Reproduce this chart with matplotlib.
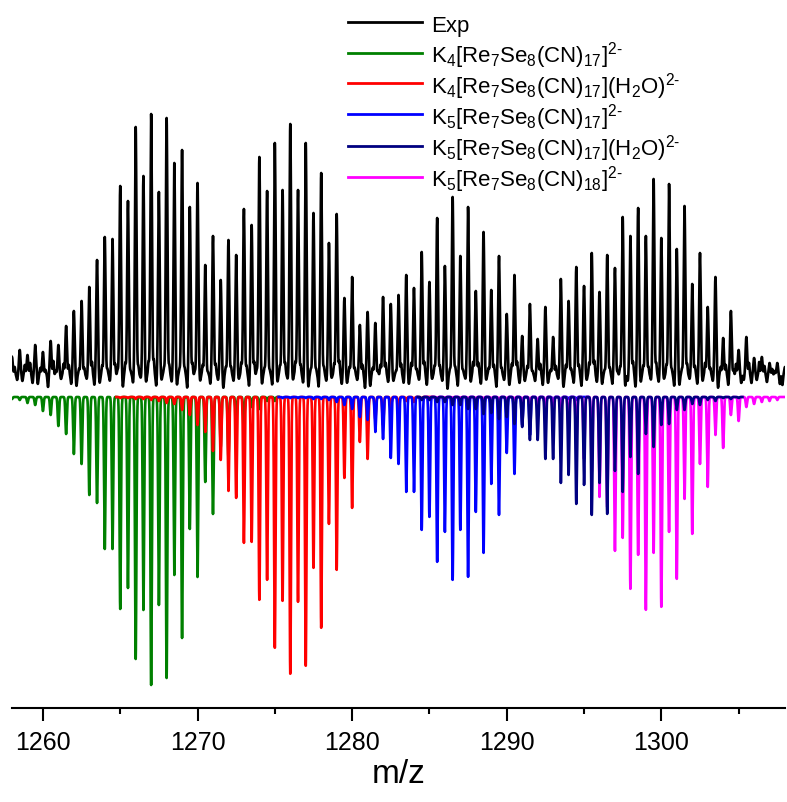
import numpy as np
import matplotlib
matplotlib.use('Agg')
import matplotlib.pyplot as plt
from matplotlib.lines import Line2D
from matplotlib.ticker import MultipleLocator

plt.rcParams['font.family'] = ['Liberation Sans', 'DejaVu Sans']
plt.rcParams['mathtext.fontset'] = 'custom'
plt.rcParams['mathtext.rm'] = 'Liberation Sans'
plt.rcParams['mathtext.it'] = 'Liberation Sans:italic'
plt.rcParams['mathtext.bf'] = 'Liberation Sans:bold'

# ---------------- data (peak intensities, arbitrary units, 0.5 m/z spacing) ----------------
exp_start = 1258.0
exp_heights = [18, 25, 20, 30, 23, 34, 30, 49, 64, 74,
               88, 115, 138, 136, 189, 174, 248, 199, 261, 183,
               257, 212, 225, 168, 192, 110, 139, 95, 135, 120,
               166, 150, 218, 184, 232, 185, 251, 185, 232, 162,
               202, 132, 161, 77, 98, 50, 63, 52, 78, 71,
               80, 100, 87, 123, 93, 157, 109, 178, 119, 168,
               84, 143, 85, 119, 61, 100, 39, 71, 36, 68,
               38, 96, 74, 108, 89, 122, 83, 120, 107, 158,
               139, 167, 139, 196, 137, 191, 126, 169, 91, 122,
               68, 98, 37, 64, 25, 38, 17, 18, 12, 12,
               8]
# baseline noise of the experimental trace, between the isotope peaks
noise_a = [8, -6, 12, -9, 5, 14, -4, 10, -11, 7,
           13, -8, 6, 11, -12, 4, 9, -7, 15, -5,
           10, -10, 7, 12, -6, 3, 11, -13, 8, -4,
           9, 13, -9, 5, -7, 12, -5, 10, -12, 6,
           8, -3, 14, -8, 7, 10, -11, 4, 12, -6,
           11, -9, 6, 13, -4, 9, -14, 8, 5, -7,
           12, -5, 10, 7, -10, 13, -6, 4, 11, -8,
           9, -12, 6, 10, -5, 14, -9, 7, 3, -11,
           13, -7, 8, 12, -4, 6, -10, 11, 9, -6,
           7, -13, 10, 5, -8, 12, -5, 9, 6, -9]
noise_b = [-5, 10, -8, 7, -12, 4, 11, -9, 6, -4,
           -10, 9, -6, 5, 12, -8, -3, 13, -11, 7,
           -7, 6, -13, 4, 10, -9, -5, 8, -6, 12,
           -11, 5, 7, -10, 9, -4, 13, -8, 6, -12,
           -6, 11, -9, 8, -5, -13, 7, 10, -7, 4,
           -8, 12, -5, -10, 9, -6, 6, -11, -4, 13,
           -9, 7, -12, -5, 11, -8, 9, -6, -10, 5,
           -4, 10, -8, -11, 12, -7, 5, -9, 8, -6,
           -12, 9, -5, -7, 10, -11, 6, -4, -9, 12,
           -6, 8, -10, 11, -5, -8, 13, -7, 4, -10]

green_start = 1258.0
green_vals = [2, 3, 6, 8, 14, 18, 29, 37, 57, 67,
              98, 106, 152, 152, 212, 191, 262, 213, 288, 208,
              281, 178, 241, 132, 180, 85, 117, 50, 60, 25,
              30, 10, 12, 4, 4]

red_start = 1265.0
red_vals = [1, 1, 2, 2, 3, 4, 6, 7, 13, 18,
            28, 35, 54, 63, 94, 101, 146, 145, 203, 183,
            251, 204, 277, 205, 269, 171, 231, 127, 173, 81,
            111, 45, 62, 22, 28, 10, 12, 4, 5, 2]

blue_start = 1275.5
blue_vals = [1, 1, 1, 1, 2, 2, 3, 5, 8,
             12, 20, 23, 35, 42, 61, 67, 95, 95, 133,
             120, 165, 135, 183, 133, 180, 115, 156, 87, 118,
             56, 77, 28, 38, 14, 18, 6, 8, 2, 3]

navy_start = 1284.5
navy_vals = [3, 3, 5, 5, 8, 8, 12, 12, 17, 16,
             22, 20, 27, 30, 43, 43, 62, 62, 86, 78,
             107, 88, 118, 86, 117, 74, 95, 60, 77, 37,
             50, 28, 27, 13, 13, 7, 8, 3, 4, 1,
             2, 1]

magenta_start = 1285.0
magenta_vals = [1, 1, 1, 1, 1, 2, 2, 2, 2, 3,
                3, 3, 5, 6, 9, 11, 18, 22, 33, 45,
                62, 75, 100, 110, 154, 141, 192, 158, 213, 156,
                210, 135, 182, 102, 137, 67, 90, 38, 51, 18,
                24, 10, 7, 5, 4, 3]

series_labels = ['Exp',
                 r'K$_{4}$[Re$_{7}$Se$_{8}$(CN)$_{17}$]$^{2\text{-}}$',
                 r'K$_{4}$[Re$_{7}$Se$_{8}$(CN)$_{17}$](H$_{2}$O)$^{2\text{-}}$',
                 r'K$_{5}$[Re$_{7}$Se$_{8}$(CN)$_{17}$]$^{2\text{-}}$',
                 r'K$_{5}$[Re$_{7}$Se$_{8}$(CN)$_{17}$](H$_{2}$O)$^{2\text{-}}$',
                 r'K$_{5}$[Re$_{7}$Se$_{8}$(CN)$_{18}$]$^{2\text{-}}$']
series_colors = ['#000000', '#008000', '#ff0000', '#0000ff', '#000080', '#ff00ff']

x_ticks = [1260, 1270, 1280, 1290, 1300]

# ---------------- rendering helpers ----------------
def profile(grid, start, vals, sigma, offset=0.0):
    pos = start + offset + 0.5 * np.arange(len(vals))
    y = np.zeros_like(grid)
    for p, v in zip(pos, vals):
        y += v * np.exp(-0.5 * ((grid - p) / sigma) ** 2)
    return y

W, H = 787, 803
fig = plt.figure(figsize=(W / 100, H / 100), dpi=100)
ax = fig.add_axes([12 / W, 1 - 709 / H, 773 / W, 709 / H])

# experimental trace (upward, above the simulated baseline)
grid = np.arange(1257.8, 1308.3, 0.004)
exp_base = 22
y_exp = (exp_base + profile(grid, exp_start, exp_heights, 0.05)
         + profile(grid, exp_start, noise_a, 0.035, offset=0.17)
         + profile(grid, exp_start, noise_b, 0.035, offset=0.33))
ax.plot(grid, y_exp, color='black', lw=1.9, zorder=7)

# simulated traces (downward)
sims = [
    (green_start, green_vals, 1257.8, 1275.25, series_colors[1], 2),
    (red_start, red_vals, 1264.75, 1285.25, series_colors[2], 3),
    (blue_start, blue_vals, 1275.25, 1295.25, series_colors[3], 4),
    (magenta_start, magenta_vals, 1284.75, 1308.3, series_colors[5], 5),
    (navy_start, navy_vals, 1284.25, 1305.25, series_colors[4], 6),
]
for start, vals, lo, hi, col, z in sims:
    g = np.arange(lo, hi, 0.004)
    ax.plot(g, -profile(g, start, vals, 0.045), color=col, lw=1.9, zorder=z)

ax.set_xlim(1258, 1308)
ax.set_ylim(-311, 398)

for s in ['left', 'right', 'top']:
    ax.spines[s].set_visible(False)
ax.spines['bottom'].set_linewidth(1.5)
ax.set_yticks([])
ax.set_xticks(x_ticks)
ax.xaxis.set_minor_locator(MultipleLocator(5))
ax.tick_params(axis='x', which='major', length=9.5, width=1.5, labelsize=18, pad=6)
ax.tick_params(axis='x', which='minor', length=4.3, width=1.5)
ax.set_xlabel('m/z', fontsize=24, labelpad=3)

# legend drawn at fixed pixel rows
row_y = [23.3, 53.5, 84.3, 115.3, 146.8, 178.0]
for lab, col, yp in zip(series_labels, series_colors, row_y):
    fig.add_artist(Line2D([348 / W, 422 / W], [1 - yp / H, 1 - yp / H],
                          color=col, lw=2.0, transform=fig.transFigure))
    fig.text(431 / W, 1 - (yp + 8.8) / H, lab, fontsize=16, ha='left', va='baseline')

fig.savefig('out.png', dpi=100)
